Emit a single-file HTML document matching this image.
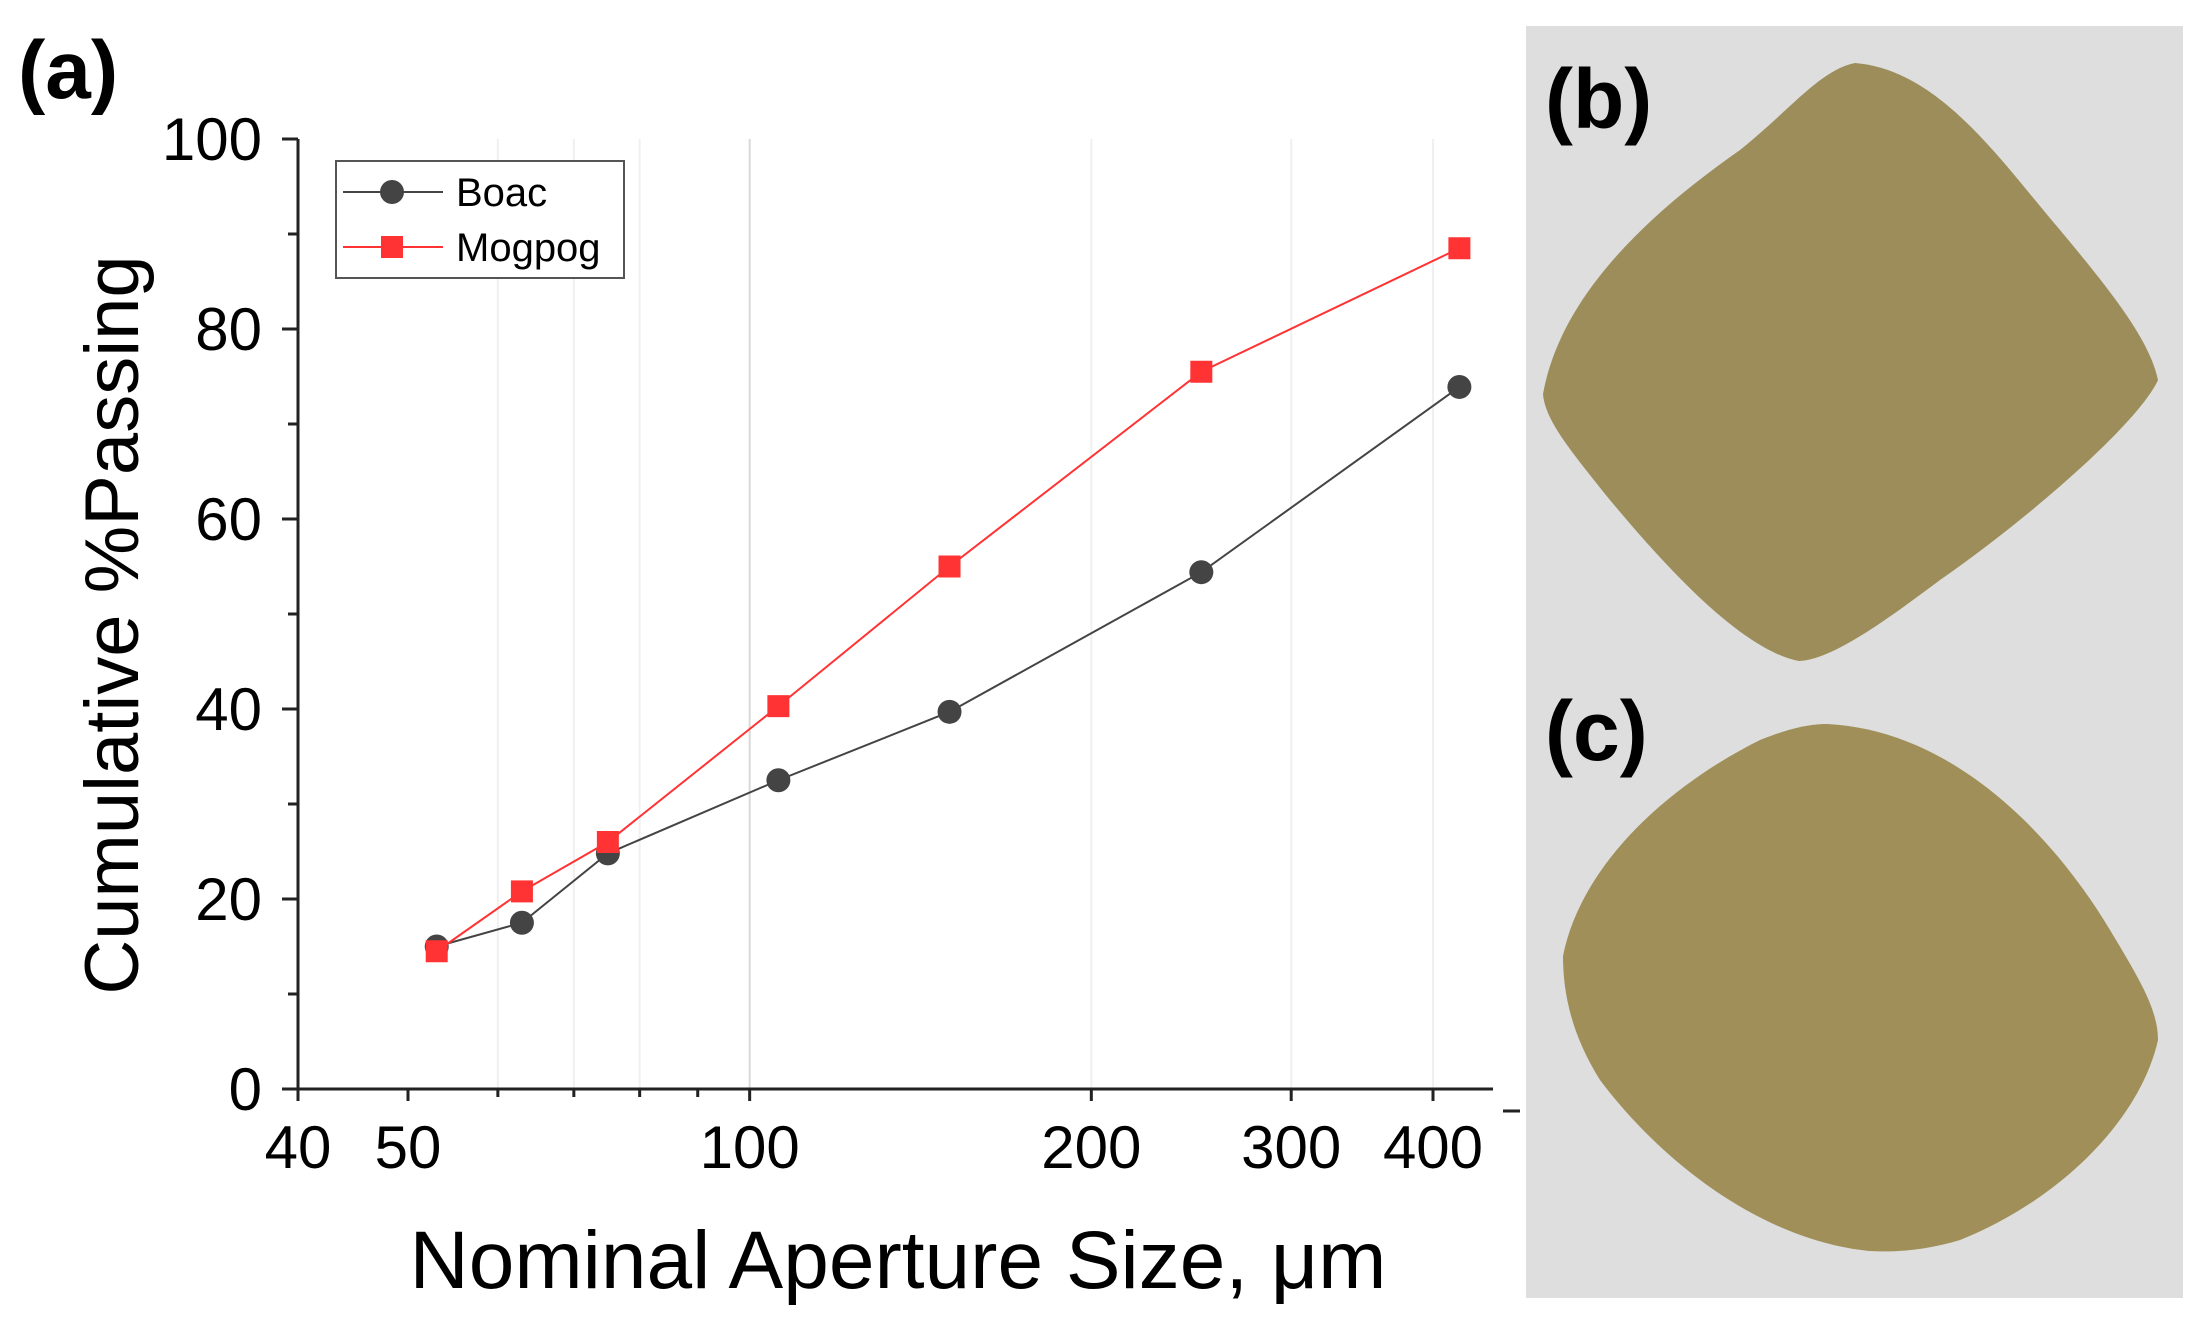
<!DOCTYPE html>
<html><head><meta charset="utf-8"><style>
html,body{margin:0;padding:0;background:#fff;}
body{width:2197px;height:1328px;overflow:hidden;font-family:"Liberation Sans",Arial,sans-serif;}
</style></head><body>
<svg id="fig" width="2197" height="1328" viewBox="0 0 2197 1328" xmlns="http://www.w3.org/2000/svg">
  <text x="18" y="98" font-size="82" font-weight="bold" font-family="Liberation Sans, sans-serif">(a)</text>
  <g id="grid"></g>
  <g id="axes"></g>
  <g id="series"></g>
  <text x="138" y="625" font-size="76" text-anchor="middle" transform="rotate(-90 138 625)">Cumulative %Passing</text>
  <text x="898" y="1288" font-size="82" text-anchor="middle">Nominal Aperture Size, μm</text>
  <g>
    <rect x="336" y="161" width="288" height="117" fill="#fff" stroke="#555" stroke-width="2"/>
    <g>
      <line x1="343" y1="192" x2="443" y2="192" stroke="#444" stroke-width="2"/>
      <circle cx="392" cy="192" r="12" fill="#444"/>
      <text x="456" y="206" font-size="40">Boac</text>
    </g>
    <g>
      <line x1="343" y1="247" x2="443" y2="247" stroke="#f33" stroke-width="2"/>
      <rect x="381" y="236" width="22" height="22" fill="#f33"/>
      <text x="456" y="261" font-size="40">Mogpog</text>
    </g>
  </g>
  <line x1="1503" y1="1111" x2="1520" y2="1111" stroke="#222" stroke-width="3"/>
  <g>
    <rect x="1526" y="26" width="657" height="1272" fill="#dddedd"/>
    <path d="M1543 394 C1560 300 1640 220 1740 150 C1790 110 1820 70 1855 63 C1940 70 2000 160 2060 230 C2110 290 2150 340 2158 380 C2140 420 2040 510 1940 580 C1880 625 1830 660 1799 661 C1740 650 1660 560 1610 500 C1570 450 1545 420 1543 394 Z" fill="#9c8d5a"/>
    <path d="M1563 956 C1580 870 1660 790 1760 740 C1790 728 1810 724 1827 724 C1950 730 2050 830 2110 930 C2140 980 2158 1010 2158 1040 C2140 1120 2060 1200 1960 1240 C1920 1252 1890 1252 1869 1251 C1760 1240 1660 1160 1600 1080 C1575 1040 1563 1000 1563 956 Z" fill="#a08f58"/>
    <text x="1545" y="128" font-size="84" font-weight="bold">(b)</text>
    <text x="1545" y="760" font-size="84" font-weight="bold">(c)</text>
  </g>
</svg>
<script>
const sizes = [53, 63, 75, 106, 150, 250, 422];
const boac = [15, 17.5, 24.8, 32.5, 39.7, 54.4, 73.9];
const mogpog = [14.5, 20.8, 26, 40.3, 55, 75.5, 88.5];
const xTickLabels = [40, 50, 100, 200, 300, 400];
const yTickLabels = [0, 20, 40, 60, 80, 100];

const NS = 'http://www.w3.org/2000/svg';
const X0 = 298, DEC = 1135, Y0 = 1089, YS = 9.5;
function xs(v){ return X0 + (Math.log10(v) - Math.log10(40)) * DEC; }
function ys(v){ return Y0 - v * YS; }
function mk(tag, attrs, parent){ const e = document.createElementNS(NS, tag); for (const k in attrs) e.setAttribute(k, attrs[k]); parent.appendChild(e); return e; }

const grid = document.getElementById('grid');
const axes = document.getElementById('axes');
const series = document.getElementById('series');

[60,70,80,100,200,300,400].forEach(v => {
  const l = mk('line', {x1: xs(v), x2: xs(v), y1: ys(100), y2: Y0, stroke: v === 100 ? '#d8d8d8' : '#f0f0f0', 'stroke-width': 2}, grid);
  
  
});

const yax = mk('line', {x1: X0, x2: X0, y1: ys(100), y2: Y0 + 12, stroke: '#222', 'stroke-width': 3}, axes);


const xax = mk('line', {x1: 282, x2: 1493, y1: Y0, y2: Y0, stroke: '#222', 'stroke-width': 3}, axes);



for (let v = 0; v <= 100; v += 10) {
  const major = v % 20 === 0;
  const t = mk('line', {x1: X0 - (major ? 16 : 10), x2: X0, y1: ys(v), y2: ys(v), stroke: '#222', 'stroke-width': 3}, axes);
  
  
}
yTickLabels.forEach(v => {
  const t = mk('text', {x: 262, y: ys(v) + 21, 'font-size': 60, 'text-anchor': 'end'}, axes);
  t.textContent = v;
  
  
});
[40,50,60,70,80,90,100,200,300,400].forEach(v => {
  const major = xTickLabels.includes(v);
  const t = mk('line', {x1: xs(v), x2: xs(v), y1: Y0, y2: Y0 + (major ? 12 : 8), stroke: '#222', 'stroke-width': 3}, axes);
  
  
});
xTickLabels.forEach(v => {
  const t = mk('text', {x: xs(v), y: 1168, 'font-size': 60, 'text-anchor': 'middle'}, axes);
  t.textContent = v;
  
  
});

function drawSeries(vals, color, shape, name){
  const pts = sizes.map((s, i) => xs(s) + ',' + ys(vals[i])).join(' ');
  const pl = mk('polyline', {points: pts, fill: 'none', stroke: color, 'stroke-width': 2}, series);
  
  
  sizes.forEach((s, i) => {
    let m;
    if (shape === 'circle') m = mk('circle', {cx: xs(s), cy: ys(vals[i]), r: 12, fill: color}, series);
    else m = mk('rect', {x: xs(s) - 11, y: ys(vals[i]) - 11, width: 22, height: 22, fill: color}, series);
    
    
  });
}
drawSeries(boac, '#444', 'circle', 'boac');
drawSeries(mogpog, '#f33', 'square', 'mogpog');
</script>
</body></html>
